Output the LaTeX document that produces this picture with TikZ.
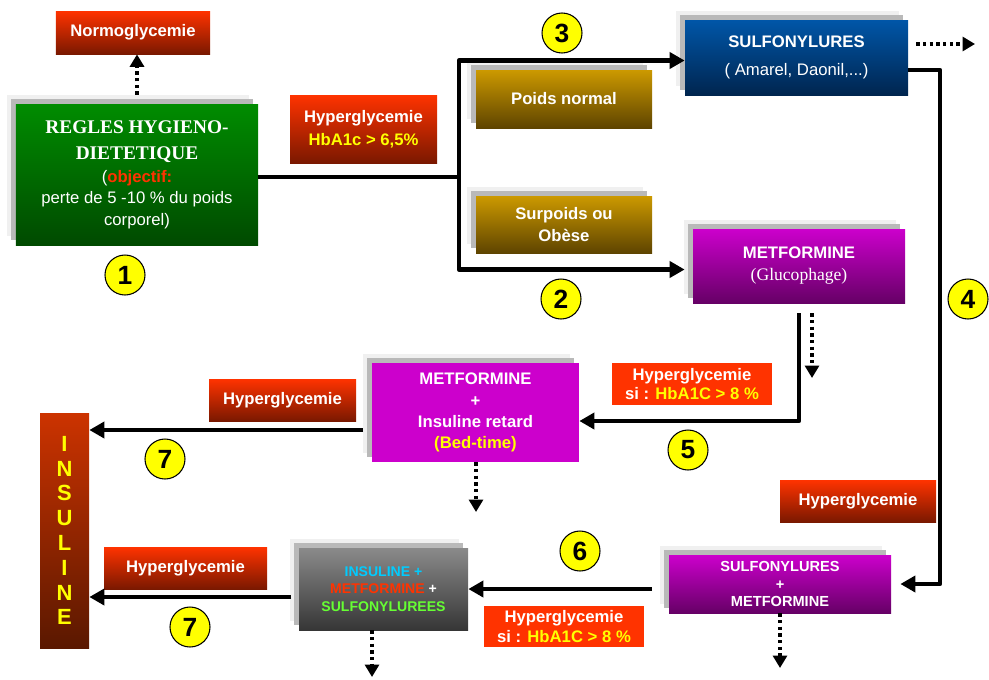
\documentclass[tikz,border=0pt]{standalone}
\usepackage{fontspec}
\setmainfont{Liberation Sans}
\newfontfamily\tnr{Liberation Serif}
\usetikzlibrary{arrows.meta,shadows}
\definecolor{rtop}{HTML}{FF3300}
\definecolor{rbot}{HTML}{7A1800}
\definecolor{orng}{HTML}{FF3300}
\definecolor{gtop}{HTML}{008C00}
\definecolor{gbot}{HTML}{004A00}
\definecolor{otop}{HTML}{CC9900}
\definecolor{obot}{HTML}{5E4400}
\definecolor{btop}{HTML}{0056A8}
\definecolor{bbot}{HTML}{00254F}
\definecolor{mtop}{HTML}{CC00CC}
\definecolor{mbot}{HTML}{660066}
\definecolor{ktop}{HTML}{8A8A8A}
\definecolor{kbot}{HTML}{363636}
\definecolor{itop}{HTML}{CC3300}
\definecolor{ibot}{HTML}{5A1800}
\definecolor{ytext}{HTML}{FFFF00}
\definecolor{ctext}{HTML}{00CCFF}
\definecolor{vtext}{HTML}{66FF33}
\begin{document}
\begin{tikzpicture}[x=0.2mm,y=-0.2mm,line join=round,
	txt/.style={text=white,align=center,inner sep=0pt,font=\bfseries\fontsize{9.5}{12}\selectfont},
	hyp/.style={txt,top color=rtop,bottom color=rbot,minimum height=8.4mm},
	hypsi/.style={txt,fill=orng,font=\bfseries\fontsize{9.5}{11.3}\selectfont},
	stack/.style={copy shadow={shadow xshift=-1.8mm,shadow yshift=1.8mm,fill=gray!12,draw=none},
		copy shadow={shadow xshift=-1mm,shadow yshift=1mm,fill=gray!55,draw=none}},
	ln/.style={line width=2.6pt},
	arr/.style={ln,-{Triangle[length=3mm,width=3.2mm]}},
	dotarr/.style={line width=2.6pt,dash pattern=on 1.9pt off 1.9pt,-{Triangle[length=2.5mm,width=2.8mm]}},
	num/.style={circle,draw,line width=0.6pt,fill=ytext,minimum size=8mm,inner sep=0pt,font=\bfseries\fontsize{15}{15}\selectfont}]
	\useasboundingbox (0,0) rectangle (989,679);
	% boites
	\node[hyp,minimum width=30.8mm,minimum height=8.6mm](N) at (133,32.5){Normoglycemie};
	\node[stack,txt,top color=gtop,bottom color=gbot,minimum width=48.4mm,minimum height=28.2mm,font=\fontsize{9.5}{12}\selectfont](R) at (137,174.5){{\tnr\bfseries\fontsize{11}{12}\selectfont REGLES HYGIENO-}\\[2.7pt]{\tnr\bfseries\fontsize{11}{12}\selectfont DIETETIQUE}\\[1.5pt](\textcolor{orng}{\textbf{objectif:}}\\perte de 5 -10 \% du poids\\corporel)};
	\node[hyp,minimum width=29.4mm,minimum height=13.6mm,font=\bfseries\fontsize{9.5}{13}\selectfont](H1) at (363.5,129){Hyperglycemie\\\textcolor{ytext}{HbA1c > 6,5\%}};
	\node[stack,txt,top color=otop,bottom color=obot,minimum width=35.2mm,minimum height=11.6mm](P) at (564,99){Poids normal};
	\node[stack,txt,top color=otop,bottom color=obot,minimum width=35.2mm,minimum height=11.4mm,font=\bfseries\fontsize{9.5}{12.5}\selectfont](O) at (564,224.5){Surpoids ou\\Obèse};
	\node[stack,txt,top color=btop,bottom color=bbot,minimum width=44.6mm,minimum height=15mm,font=\fontsize{9.5}{15.5}\selectfont](S) at (796.5,57.5){\textbf{SULFONYLURES}\\( Amarel, Daonil,...)};
	\node[stack,txt,top color=mtop,bottom color=mbot,minimum width=42.4mm,minimum height=14.8mm,font=\fontsize{9.5}{12.5}\selectfont](M) at (799,266){\textbf{METFORMINE}\\{\tnr\fontsize{10}{12}\selectfont(Glucophage)}};
	\node[hypsi,minimum width=32mm,minimum height=8.4mm](H5) at (692,384){Hyperglycemie\\si : \textcolor{ytext}{HbA1C > 8 \%}};
	\node[stack,txt,fill=mtop,minimum width=41.4mm,minimum height=19.8mm](MI) at (475.5,412.5){METFORMINE\\+\\Insuline retard\\\textcolor{ytext}{(Bed-time)}};
	\node[hyp,minimum width=29.4mm](H7) at (282.5,400){Hyperglycemie};
	\node[top color=itop,bottom color=ibot,minimum width=9.8mm,minimum height=47mm,inner sep=0pt,text=ytext,align=center,font=\bfseries\fontsize{12.5}{14.1}\selectfont](I) at (64.5,530.5){I\\N\\S\\U\\L\\I\\N\\E};
	\node[hyp,minimum width=32.6mm](H8) at (185.5,568){Hyperglycemie};
	\node[stack,txt,top color=ktop,bottom color=kbot,minimum width=33.8mm,minimum height=16.4mm,font=\bfseries\fontsize{8}{9.9}\selectfont](G) at (383.5,589){\textcolor{ctext}{INSULINE +}\\\textcolor{orng}{METFORMINE} +\\\textcolor{vtext}{SULFONYLUREES}};
	\node[hypsi,minimum width=32mm,minimum height=8.2mm](H6) at (564,626.5){Hyperglycemie\\si : \textcolor{ytext}{HbA1C > 8 \%}};
	\node[stack,txt,top color=mtop,bottom color=mbot,minimum width=44.4mm,minimum height=11.6mm,font=\bfseries\fontsize{8.3}{9.9}\selectfont](SM) at (780,584){SULFONYLURES\\+\\METFORMINE};
	\node[hyp,minimum width=31.2mm](H4) at (858,501){Hyperglycemie};
	% points de passage
	\path
	(459,177)coordinate(J)
	(940,70)coordinate(K)
	(363,430)coordinate(A7)
	(291,597)coordinate(B7)
	(652,589)coordinate(A6)
	(812,378)coordinate(D1)
	(476,512)coordinate(D2)
	(372,677)coordinate(D3)
	(780,668)coordinate(D4)
	(975,44)coordinate(D5)
	;
	\draw[dotarr,shorten <=1.8mm] (R.north)--(R.north|-N.south);
	\draw[ln] (R.east|-J)--(J);
	\draw[arr] (J)|-([yshift=-0.6mm]S.west);
	\draw[arr] (J)|-([xshift=-1.6mm,yshift=-0.7mm]M.west);
	\draw[dotarr,shorten <=1.6mm] (S.east|-D5)--(D5);
	\draw[arr] (S.east|-K)--(K)|-([xshift=1.8mm]SM.east);
	\draw[arr] ([yshift=-2mm]M.south)|-([yshift=-1.7mm]MI.east);
	\draw[dotarr,shorten <=2mm] (D1|-M.south)--(D1);
	\draw[arr] (A7)--(I.east|-A7);
	\draw[dotarr] (D2|-MI.south)--(D2);
	\draw[arr] (B7)--(I.east|-B7);
	\draw[dotarr] (D3|-G.south)--(D3);
	\draw[arr] (A6)--(G.east|-A6);
	\draw[dotarr] (D4|-SM.south)--(D4);
	\foreach \x/\y/\n/\t in {125/275/c1/1,562/33/c3/3,561/299/c2/2,968/299/c4/4,688/450/c5/5,580/551/c6/6,165/459/c7/7,190/627/c8/7}
		\node[num](\n) at (\x,\y){\t};
\end{tikzpicture}
\end{document}
